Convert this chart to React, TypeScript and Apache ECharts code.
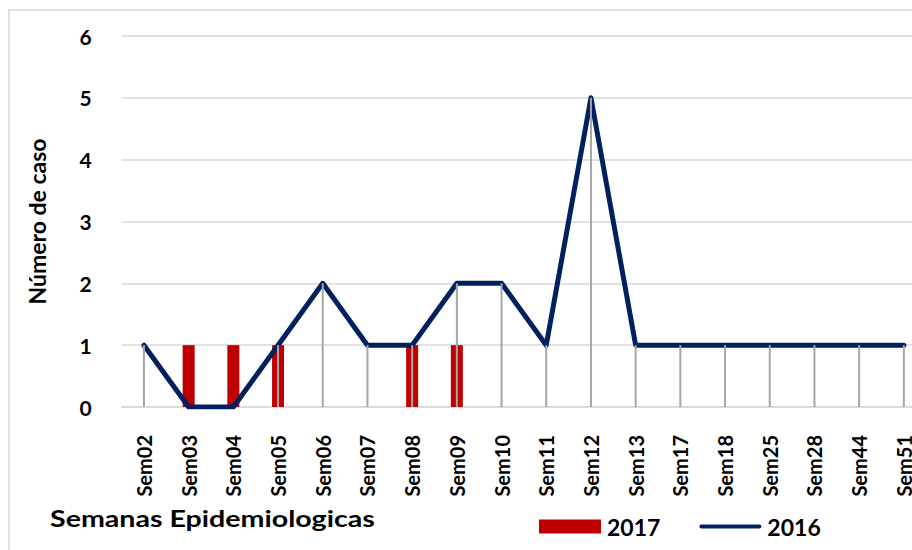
import React, { useEffect, useRef } from "react";
import * as echarts from "echarts";

const categories = ["Sem02","Sem03","Sem04","Sem05","Sem06","Sem07","Sem08","Sem09","Sem10","Sem11","Sem12","Sem13","Sem17","Sem18","Sem25","Sem28","Sem44","Sem51"];
const values2017: (number | null)[] = [null,1,1,1,null,null,1,1,null,null,null,null,null,null,null,null,null,null];
const values2016 = [1,0,0,1,2,1,1,2,2,1,5,1,1,1,1,1,1,1];
const yTicks = [0, 6, 1];

const FONT = "Lato";

export default function App() {
  const ref = useRef<HTMLDivElement>(null);
  useEffect(() => {
    if (!ref.current) return;
    const chart = echarts.init(ref.current, undefined, { renderer: "svg" });
    chart.setOption({
      animation: false,
      backgroundColor: "#ffffff",
      textStyle: { fontFamily: FONT },
      grid: { left: 121.6, width: 804.6, top: 36, bottom: 143, containLabel: false, outerBoundsMode: "none" },
      graphic: [
        { type: "rect", shape: { x: 9, y: 10, width: 1000, height: 1000 }, style: { fill: "none", stroke: "#D9D9D9", lineWidth: 1.5 }, z: -10 },
        { type: "text", x: 50, y: 507, scaleX: 1.3, style: { text: "Semanas Epidemiologicas", fontFamily: FONT, fontWeight: "bold", fontSize: 22, fill: "#000" } },
      ],
      legend: {
        left: 539,
        top: 515,
        padding: 0,
        itemGap: 39,
        itemWidth: 62,
        itemHeight: 14,
        symbolKeepAspect: true,
        textStyle: { fontFamily: FONT, fontWeight: "bold", fontSize: 23, color: "#000", padding: [0, 0, 0, 1] },
        data: [
          { name: "2017", icon: "rect" },
          { name: "2016", icon: "path://M2,0 L60,0 C61.1,0 62,0.9 62,2 C62,3.1 61.1,4 60,4 L2,4 C0.9,4 0,3.1 0,2 C0,0.9 0.9,0 2,0 Z" },
        ],
      },
      xAxis: {
        type: "category",
        data: categories,
        boundaryGap: true,
        axisLine: { show: true, lineStyle: { color: "#D9D9D9", width: 1.5 } },
        axisTick: { show: false },
        axisLabel: { rotate: 90, margin: 28, interval: 0, fontFamily: FONT, fontWeight: "bold", fontSize: 20, color: "#000" },
      },
      yAxis: {
        type: "value",
        min: yTicks[0],
        max: yTicks[1],
        interval: yTicks[2],
        name: "Número de caso",
        nameLocation: "middle",
        nameRotate: 90,
        nameGap: 73,
        nameTextStyle: { fontFamily: FONT, fontWeight: "bold", fontSize: 23, color: "#000" },
        axisLine: { show: false },
        axisTick: { show: false },
        axisLabel: { margin: 30, fontFamily: FONT, fontWeight: "bold", fontSize: 21, color: "#000" },
        splitLine: { lineStyle: { color: "#D9D9D9", width: 1.5 } },
      },
      series: [
        {
          name: "2017",
          type: "bar",
          data: values2017,
          barWidth: 12,
          itemStyle: { color: "#C00000" },
          z: 2,
        },
        {
          name: "2016",
          type: "line",
          data: values2016,
          symbol: "none",
          lineStyle: { color: "#002060", width: 5, cap: "round", join: "round" },
          itemStyle: { color: "#002060" },
          z: 3,
        },
        {
          name: "drop",
          type: "custom",
          data: values2016.map((v, i) => [i, v]),
          z: 4,
          silent: true,
          renderItem: (params: any, api: any) => {
            const top = api.coord([api.value(0), api.value(1)]);
            const bot = api.coord([api.value(0), 0]);
            return {
              type: "line",
              shape: { x1: top[0], y1: top[1], x2: bot[0], y2: bot[1] },
              style: { stroke: "#A6A6A6", lineWidth: 2 },
            };
          },
        },
      ],
    });
    return () => chart.dispose();
  }, []);
  return <div ref={ref} style={{ position: "fixed", left: 0, top: 0, width: 912, height: 550 }} />;
}
